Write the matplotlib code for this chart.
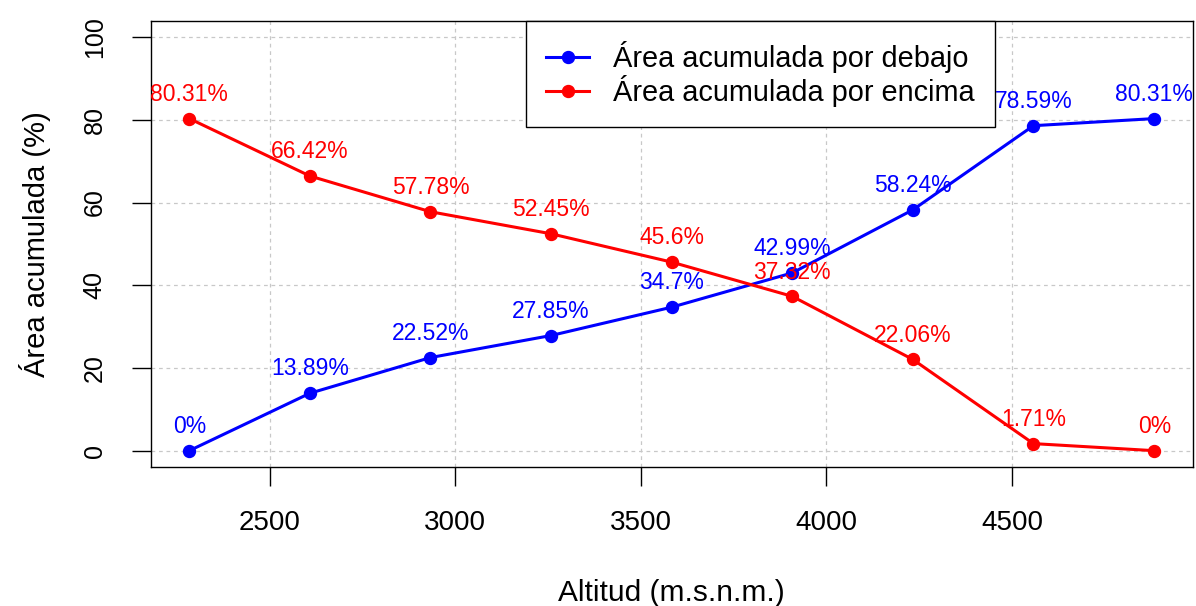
import matplotlib
matplotlib.use('Agg')
from matplotlib import pyplot as plt

plt.rcParams['font.family'] = ['Liberation Sans', 'DejaVu Sans']

# datos
altitud = [2283, 2608, 2933, 3258, 3583, 3908, 4233, 4558, 4884]
area_debajo = [0, 13.89, 22.52, 27.85, 34.7, 42.99, 58.24, 78.59, 80.31]
area_encima = [80.31, 66.42, 57.78, 52.45, 45.6, 37.32, 22.06, 1.71, 0]
x_ticks = [2500, 3000, 3500, 4000, 4500]
y_ticks = [0, 20, 40, 60, 80, 100]

fig = plt.figure(figsize=(11.96, 6.06), dpi=100)
ax = fig.add_axes([0.126, 0.229, 0.8715, 0.737])

# rango tipo R (4% extra)
xr = altitud[-1] - altitud[0]
ax.set_xlim(altitud[0] - 0.04 * xr, altitud[-1] + 0.04 * xr)
ax.set_ylim(-4, 104)

ax.set_xticks(x_ticks)
ax.set_yticks(y_ticks)
ax.grid(True, color='#c8c8c8', linestyle=(0, (3, 3)), linewidth=0.9)
ax.set_axisbelow(True)

ax.plot(altitud, area_debajo, color='blue', lw=2.2, marker='o', ms=8.6,
        label='Área acumulada por debajo')
ax.plot(altitud, area_encima, color='red', lw=2.2, marker='o', ms=8.6,
        label='Área acumulada por encima')

for x, v in zip(altitud, area_debajo):
    ax.annotate(f'{v:g}%', (x, v), xytext=(0, 17.5), textcoords='offset points',
                ha='center', va='center', color='blue', fontsize=16.5)
for x, v in zip(altitud, area_encima):
    ax.annotate(f'{v:g}%', (x, v), xytext=(0, 17.5), textcoords='offset points',
                ha='center', va='center', color='red', fontsize=16.5)

for s in ax.spines.values():
    s.set_color('black')
    s.set_linewidth(1.0)

ax.tick_params(axis='x', length=13.7, width=1.0, labelsize=20, pad=17)
ax.tick_params(axis='y', length=13.7, width=1.0, labelsize=18, pad=18)
for lab in ax.get_yticklabels():
    lab.set_rotation(90)
    lab.set_va('center')

ax.set_xlabel('Altitud (m.s.n.m.)', fontsize=21.5, va='center')
ax.xaxis.set_label_coords(0.5, -0.282)
ax.set_ylabel('Área acumulada (%)', fontsize=21, va='center')
ax.yaxis.set_label_coords(-0.111, 0.5)

leg = ax.legend(loc='upper left', bbox_to_anchor=(0.36, 1.0), fontsize=20.8,
                frameon=True, fancybox=False, edgecolor='black', framealpha=1,
                borderaxespad=0, borderpad=0.7, labelspacing=0.07,
                handlelength=1.5, handletextpad=0.83)
leg.get_frame().set_linewidth(1.0)

fig.savefig('out.png', dpi=100)
